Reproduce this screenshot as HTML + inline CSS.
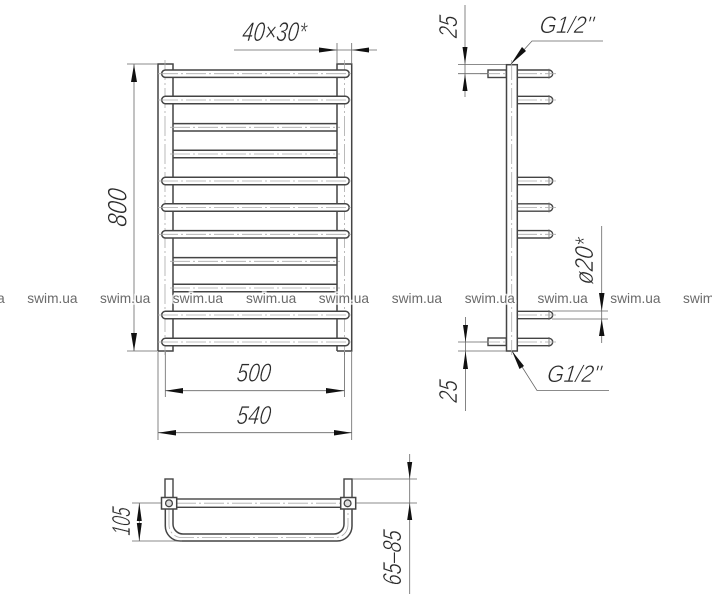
<!DOCTYPE html>
<html>
<head>
<meta charset="utf-8">
<style>
html,body{margin:0;padding:0;background:#fff;width:712px;height:600px;overflow:hidden}
svg{display:block;filter:blur(.25px)}
.d{font-family:"Liberation Sans",sans-serif;font-style:italic;fill:#2a2a2a;stroke:#fff;stroke-width:.55px;text-anchor:middle}
.w{font-family:"Liberation Sans",sans-serif;font-size:13.7px;fill:#6a6a6a;stroke:#fff;stroke-opacity:.75;stroke-width:3.5px;paint-order:stroke}
.s{fill:none;stroke:#444;stroke-width:1.5}
.t{fill:none;stroke:#666;stroke-width:.8}
.c{fill:none;stroke:#aaa;stroke-width:.8;stroke-dasharray:20 3 2 3}
.a{fill:#111}
</style>
</head>
<body>
<svg width="712" height="600" viewBox="0 0 712 600" xmlns="http://www.w3.org/2000/svg">
<defs>
<g id="rail">
<rect x="161.7" y="-3.7" width="187.5" height="7.4" rx="3.7" fill="#fff" stroke="#444" stroke-width="1.5"/>
<line class="c" x1="158" y1="0" x2="353" y2="0"/>
</g>
<g id="hid">
<path class="s" d="M173 -3.7H337M173 3.7H337"/>
<line class="c" x1="170" y1="0" x2="340" y2="0"/>
</g>
<g id="srail">
<path d="M517 -3.7H549a3.7 3.7 0 0 1 0 7.4H517Z" fill="#fff" stroke="#444" stroke-width="1.4"/>
<line class="t" x1="549" y1="-5" x2="549" y2="5"/>
<line class="c" x1="517" y1="0" x2="556" y2="0"/>
</g>
</defs>

<!-- front view columns -->
<path class="s" d="M158 351V64H173V351H158"/>
<path class="s" d="M337 351V64H351.7V351H337"/>
<line class="c" x1="165" y1="60" x2="165" y2="355"/>
<line class="c" x1="344.5" y1="60" x2="344.5" y2="355"/>
<use href="#rail" y="73.7"/>
<use href="#rail" y="100"/>
<use href="#hid" y="127.3"/>
<use href="#hid" y="154"/>
<use href="#rail" y="181"/>
<use href="#rail" y="207.5"/>
<use href="#rail" y="234.3"/>
<use href="#hid" y="261.3"/>
<use href="#hid" y="288"/>
<use href="#rail" y="315"/>
<use href="#rail" y="342"/>

<!-- 40x30 -->
<path class="t" d="M234 50H377M337 43V64M351.7 43V64"/>
<polygon class="a" points="337,50 319,47.5 319,52.5"/>
<polygon class="a" points="352,50 369,47.5 369,52.5"/>
<text class="d" transform="translate(273.5 41) skewX(-7)" font-size="27" textLength="64" lengthAdjust="spacingAndGlyphs">40×30*</text>

<!-- 800 -->
<path class="t" d="M134 64V351M127 64H158M127 351H158"/>
<polygon class="a" points="134,64.5 131,82 137,82"/>
<polygon class="a" points="134,351 131,333 137,333"/>
<text class="d" transform="translate(126.5 208.5) rotate(-90) skewX(-7)" font-size="27" textLength="38" lengthAdjust="spacingAndGlyphs">800</text>

<!-- 500 -->
<path class="t" d="M165.3 352V397M344.5 352V397M165.3 390.7H344.5"/>
<polygon class="a" points="165.3,390.7 183,388 183,393.5"/>
<polygon class="a" points="344.5,390.7 326,388 326,393.5"/>
<text class="d" transform="translate(253 381.5) skewX(-7)" font-size="26" textLength="34" lengthAdjust="spacingAndGlyphs">500</text>

<!-- 540 -->
<path class="t" d="M158 352V440M351.7 352V440M158 432.7H351.7"/>
<polygon class="a" points="158,432.7 176,430 176,435.5"/>
<polygon class="a" points="351.7,432.7 334,430 334,435.5"/>
<text class="d" transform="translate(253 424) skewX(-7)" font-size="26" textLength="34" lengthAdjust="spacingAndGlyphs">540</text>

<!-- side view -->
<rect x="488" y="70" width="18.3" height="7.5" fill="#fff" stroke="#444" stroke-width="1.4"/>
<rect x="488" y="338" width="18.3" height="7.5" fill="#fff" stroke="#444" stroke-width="1.4"/>
<line class="c" x1="480" y1="73.7" x2="506" y2="73.7"/>
<line class="c" x1="480" y1="342" x2="506" y2="342"/>
<use href="#srail" y="73.7"/>
<use href="#srail" y="100"/>
<use href="#srail" y="181"/>
<use href="#srail" y="207.5"/>
<use href="#srail" y="234.3"/>
<use href="#srail" y="315"/>
<use href="#srail" y="342"/>
<rect x="506.5" y="64.7" width="10.8" height="286.3" fill="#fff" stroke="#444" stroke-width="1.5"/>
<line class="c" x1="511.7" y1="60" x2="511.7" y2="355"/>

<!-- 25 top -->
<path class="t" d="M465 5V97M458 64.5H506M458 73.7H488"/>
<polygon class="a" points="465,64 462.5,47 467.5,47"/>
<polygon class="a" points="465,74 462.5,91 467.5,91"/>
<text class="d" transform="translate(457 27.5) rotate(-90) skewX(-7)" font-size="26" textLength="22" lengthAdjust="spacingAndGlyphs">25</text>

<!-- 25 bottom -->
<path class="t" d="M465.5 317V411M458 342H488M458 351H506"/>
<polygon class="a" points="465.5,342 463,325 468,325"/>
<polygon class="a" points="465.5,351 463,369 468,369"/>
<text class="d" transform="translate(457 392) rotate(-90) skewX(-7)" font-size="26" textLength="22" lengthAdjust="spacingAndGlyphs">25</text>

<!-- G1/2 top -->
<path class="t" d="M511 64L532 41H603"/>
<polygon class="a" points="511,64 522,47 526,51"/>
<text class="d" transform="translate(566 33) skewX(-7)" font-size="24" textLength="54" lengthAdjust="spacingAndGlyphs">G1/2"</text>

<!-- G1/2 bottom -->
<path class="t" d="M512 351L537 390.5H609"/>
<polygon class="a" points="512,351 524,366 519.5,369"/>
<text class="d" transform="translate(573.5 382) skewX(-7)" font-size="24" textLength="54" lengthAdjust="spacingAndGlyphs">G1/2"</text>

<!-- dia 20 -->
<path class="t" d="M601.7 226V343M552 311H608M552 319H608"/>
<polygon class="a" points="601.7,311 599,293 604.5,293"/>
<polygon class="a" points="601.7,319 599,336 604.5,336"/>
<text class="d" transform="translate(593 262) rotate(-90) skewX(-7)" font-size="26" textLength="46" lengthAdjust="spacingAndGlyphs">ø20*</text>

<!-- top view -->
<rect x="165" y="479" width="8" height="19" fill="#fff" stroke="#444" stroke-width="1.4"/>
<rect x="344" y="479" width="8" height="19" fill="#fff" stroke="#444" stroke-width="1.4"/>
<path d="M165.3 509V526a15 15 0 0 0 15 15H337a15 15 0 0 0 15 -15V509" fill="none" stroke="#444" stroke-width="1.5"/>
<path d="M173 509V524a10 10 0 0 0 10 10H334a10 10 0 0 0 10 -10V509" fill="none" stroke="#444" stroke-width="1.5"/>
<path class="c" d="M169 509V525a12.5 12.5 0 0 0 12.5 12.5H335.5a12.5 12.5 0 0 0 12.5 -12.5V509"/>
<rect x="176" y="499" width="165" height="8.3" fill="#fff" stroke="#444" stroke-width="1.4"/>
<line class="c" x1="176" y1="503.2" x2="341" y2="503.2"/>
<rect x="161.5" y="497.5" width="15.2" height="11.5" fill="#fff" stroke="#444" stroke-width="1.5"/>
<rect x="340.7" y="497.5" width="15" height="11.5" fill="#fff" stroke="#444" stroke-width="1.5"/>
<circle cx="169" cy="503.3" r="3.4" fill="#ddd" stroke="#444" stroke-width="1.3"/>
<circle cx="347.6" cy="503.3" r="3.4" fill="#ddd" stroke="#444" stroke-width="1.3"/>

<!-- 105 -->
<path class="t" d="M139.3 503V541M132 503H161M132 541H182"/>
<polygon class="a" points="139.3,503 136.8,521 141.8,521"/>
<polygon class="a" points="139.3,541 136.8,523 141.8,523"/>
<text class="d" transform="translate(130 522) rotate(-90) skewX(-7)" font-size="26" textLength="28" lengthAdjust="spacingAndGlyphs">105</text>

<!-- 65-85 -->
<path class="t" d="M409.7 454V594M352 479H417M356 503H417"/>
<polygon class="a" points="409.7,479 407.2,462 412.2,462"/>
<polygon class="a" points="409.7,503 407.2,520 412.2,520"/>
<text class="d" transform="translate(401 558.5) rotate(-90) skewX(-7)" font-size="26" textLength="55" lengthAdjust="spacingAndGlyphs">65–85</text>

<!-- watermark -->
<text class="w" x="-45.5" y="303">swim.ua</text>
<text class="w" x="27.3" y="303">swim.ua</text>
<text class="w" x="100" y="303">swim.ua</text>
<text class="w" x="172.8" y="303">swim.ua</text>
<text class="w" x="246" y="303">swim.ua</text>
<text class="w" x="318.8" y="303">swim.ua</text>
<text class="w" x="391.8" y="303">swim.ua</text>
<text class="w" x="464.7" y="303">swim.ua</text>
<text class="w" x="537.5" y="303">swim.ua</text>
<text class="w" x="610.3" y="303">swim.ua</text>
<text class="w" x="683" y="303">swim.ua</text>
</svg>
</body>
</html>
